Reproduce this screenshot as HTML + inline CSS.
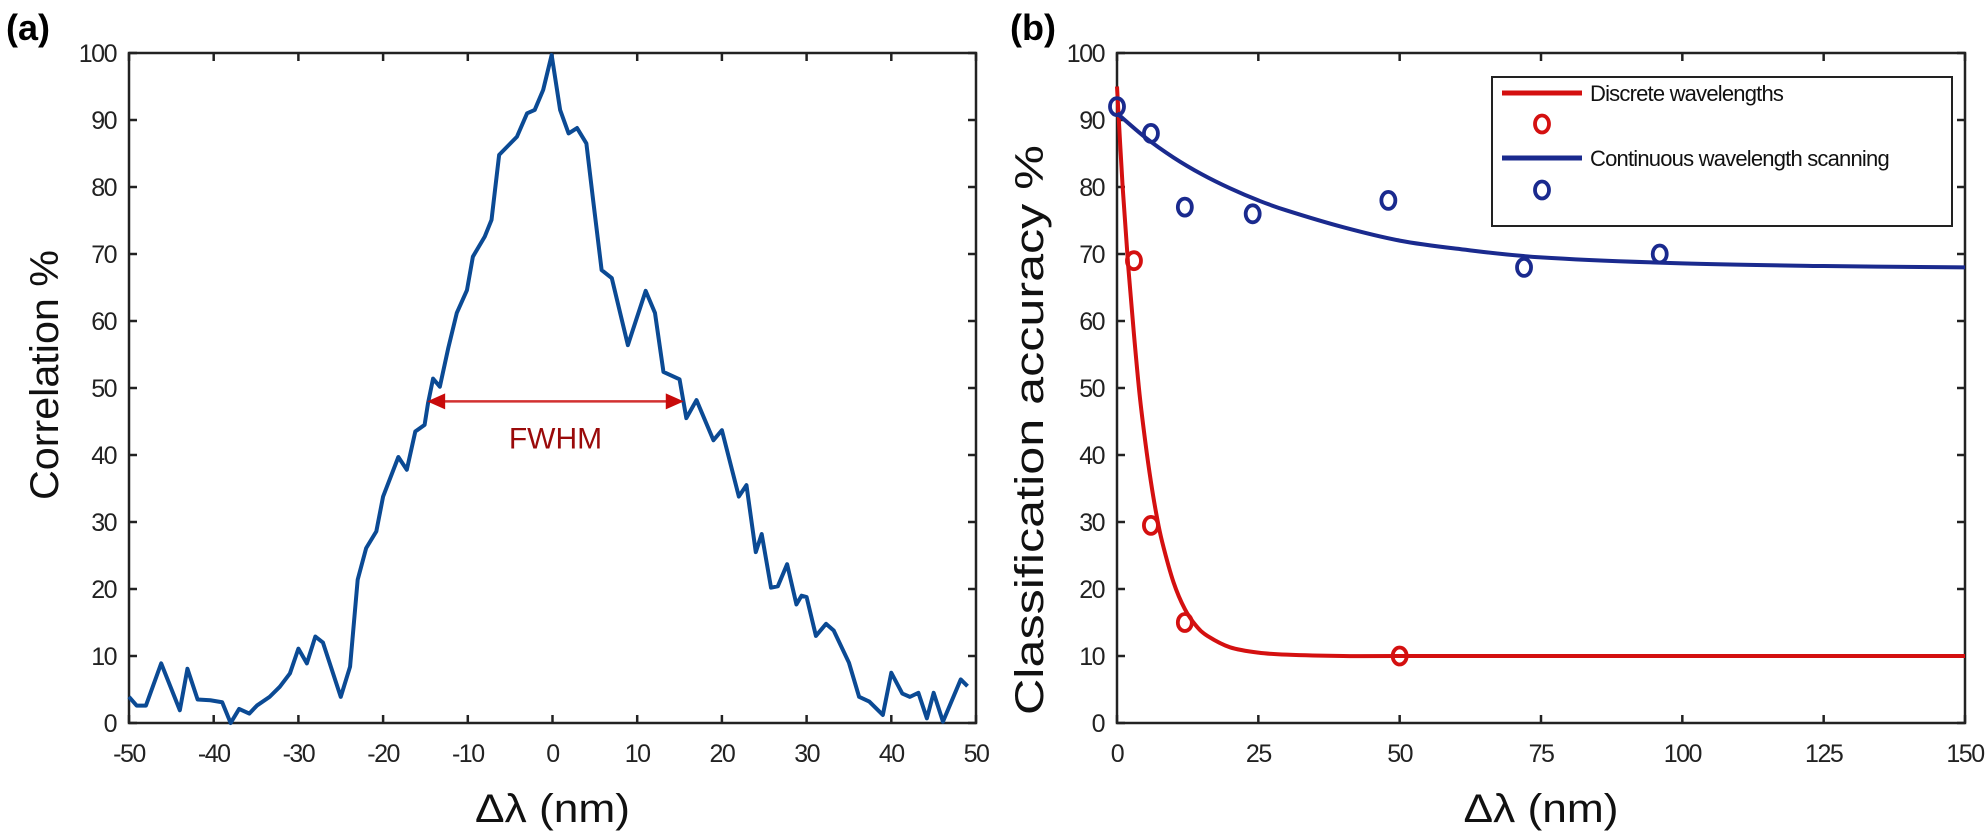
<!DOCTYPE html>
<html><head><meta charset="utf-8"><style>
html,body{margin:0;padding:0;background:#fff;}
svg{display:block;font-family:"Liberation Sans",sans-serif;}
</style></head><body>
<svg id="fig" width="1988" height="834" viewBox="0 0 1988 834">
<text x="6" y="40" font-size="36" font-weight="bold">(a)</text>
<text x="1010" y="40" font-size="36" font-weight="bold">(b)</text>
<g id="pa"></g>
<g id="pb"></g>
</svg>
<script>
// Panel (a) data
const corrX = [-50,-49.1,-48,-46.2,-44,-43.1,-41.9,-40.4,-39,-38,-37,-35.8,-34.9,-33.4,-32.2,-31,-30,-29,-28,-27.1,-25,-23.9,-23,-22,-20.8,-20,-18.2,-17.2,-16.2,-15.1,-14.7,-14.1,-13.3,-12.3,-11.3,-10.1,-9.4,-8,-7.2,-6.3,-4.2,-3,-2.1,-1.1,-0.1,0.9,1.9,2.9,4,4.8,5.8,7,8.9,11,12.1,13.1,15,15.8,17,19,20,22,22.9,24,24.7,25.8,26.6,27.7,28.8,29.4,30,31.1,32.3,33.2,35,36.2,37.4,39,40,41.3,42.2,43.2,44.2,45,46.1,48.2,49];
const corrY = [3.9,2.6,2.6,8.9,1.9,8.1,3.5,3.4,3.1,0,2.1,1.4,2.6,3.9,5.4,7.4,11.1,8.9,12.9,12,3.9,8.4,21.4,26.1,28.6,33.8,39.7,37.8,43.5,44.5,47.7,51.4,50.2,56,61.2,64.6,69.6,72.6,75.1,84.8,87.5,91,91.5,94.5,99.7,91.5,88,88.8,86.5,78,67.6,66.4,56.4,64.5,61.2,52.4,51.3,45.5,48.2,42.2,43.7,33.8,35.5,25.5,28.2,20.2,20.4,23.7,17.7,19,18.8,13,14.8,13.8,9,3.9,3.2,1.2,7.5,4.4,3.9,4.5,0.7,4.5,0.2,6.5,5.5];
const aXTicks = [-50,-40,-30,-20,-10,0,10,20,30,40,50];
const aYTicks = [0,10,20,30,40,50,60,70,80,90,100];
const fwhm = [-14.8, 15.5];
const fwhmLevel = 48;
// Panel (b) data
const discX = [3,6,12,50];
const discY = [69,29.5,15,10];
const contX = [0,6,12,24,48,72,96];
const contY = [92,88,77,76,78,68,70];
const discFitX = [0,1,2,3,4,5,6,7,8,10,12,14,16,20,25,30,40,50,100,150];
const discFitY = [95,80,68,58,49,42,36,31,27,21,17,14.5,13,11.3,10.5,10.2,10,10,10,10];
const contFitX = [0,5,10,15,20,25,30,40,50,60,75,100,125,150];
const contFitY = [91,87.4,84.4,81.9,79.8,78,76.5,74,72,70.8,69.5,68.6,68.2,68];
const bXTicks = [0,25,50,75,100,125,150];
const bYTicks = [0,10,20,30,40,50,60,70,80,90,100];

const NS="http://www.w3.org/2000/svg";
function mk(parent,tag,attrs,text){const e=document.createElementNS(NS,tag);for(const k in attrs)e.setAttribute(k,attrs[k]);if(text!==undefined)e.textContent=text;parent.appendChild(e);return e;}

function axes(g,L,R,T,B,xt,yt,sx,sy,ylabel,ylx,ylcy,yllen){
  mk(g,'rect',{x:L,y:T,width:R-L,height:B-T,fill:'none',stroke:'#222','stroke-width':2.5});
  xt.forEach(v=>{const x=sx(v);
    mk(g,'line',{x1:x,y1:B,x2:x,y2:B-8,stroke:'#222','stroke-width':2.5});
    mk(g,'line',{x1:x,y1:T,x2:x,y2:T+8,stroke:'#222','stroke-width':2.5});
    const t=mk(g,'text',{x:x,y:B+39,'font-size':25,'text-anchor':'middle',fill:'#222','letter-spacing':'-1.5'},String(v));
    
    
  });
  yt.forEach(v=>{const y=sy(v);
    mk(g,'line',{x1:L,y1:y,x2:L+8,y2:y,stroke:'#222','stroke-width':2.5});
    mk(g,'line',{x1:R,y1:y,x2:R-8,y2:y,stroke:'#222','stroke-width':2.5});
    const t=mk(g,'text',{x:L-13,y:y+9,'font-size':25,'text-anchor':'end',fill:'#222','letter-spacing':'-1.5'},String(v));
    
    
  });
  const xl=mk(g,'text',{x:(L+R)/2,y:822,'font-size':40,'text-anchor':'middle',fill:'#111',textLength:155,lengthAdjust:'spacingAndGlyphs'},'Δλ (nm)');
  
  
  const yl=mk(g,'text',{x:0,y:0,'font-size':40,'text-anchor':'middle',fill:'#111',textLength:yllen,lengthAdjust:'spacingAndGlyphs',transform:`translate(${ylx},${ylcy}) rotate(-90)`},ylabel);
  
  
}
function smooth(pts){let d=`M${pts[0][0]},${pts[0][1]}`;
  for(let i=0;i<pts.length-1;i++){const p0=pts[Math.max(0,i-1)],p1=pts[i],p2=pts[i+1],p3=pts[Math.min(pts.length-1,i+2)];
    const c1=[p1[0]+(p2[0]-p0[0])/6,p1[1]+(p2[1]-p0[1])/6],c2=[p2[0]-(p3[0]-p1[0])/6,p2[1]-(p3[1]-p1[1])/6];
    d+=` C${c1[0]},${c1[1]} ${c2[0]},${c2[1]} ${p2[0]},${p2[1]}`;}
  return d;}

// Panel a
(function(){
  const g=document.getElementById('pa');
  const L=129,R=976,T=53,B=723;
  const sx=v=>L+(v+50)/100*(R-L), sy=v=>B-v/100*(B-T);
  axes(g,L,R,T,B,aXTicks,aYTicks,sx,sy,'Correlation %',58,375,250);
  const pts=corrX.map((x,i)=>`${sx(x)},${sy(corrY[i])}`).join(' ');
  const l=mk(g,'polyline',{points:pts,fill:'none',stroke:'#0b4a94','stroke-width':4,'stroke-linejoin':'round'});
  
  
  const y=sy(fwhmLevel),x1=sx(fwhm[0]),x2=sx(fwhm[1]);
  const a=mk(g,'g',{});
  
  
  mk(a,'line',{x1:x1+14,y1:y,x2:x2-14,y2:y,stroke:'#d23030','stroke-width':2.5});
  mk(a,'polygon',{points:`${x1},${y} ${x1+18},${y-8} ${x1+18},${y+8}`,fill:'#c80a0a'});
  mk(a,'polygon',{points:`${x2},${y} ${x2-18},${y-8} ${x2-18},${y+8}`,fill:'#c80a0a'});
  const t=mk(g,'text',{x:(x1+x2)/2,y:y+47,'font-size':30,'text-anchor':'middle',fill:'#9a0a0a'},'FWHM');
  
  
})();

// Panel b
(function(){
  const g=document.getElementById('pb');
  const L=1117,R=1965,T=53,B=723;
  const sx=v=>L+v/150*(R-L), sy=v=>B-v/100*(B-T);
  axes(g,L,R,T,B,bXTicks,bYTicks,sx,sy,'Classification accuracy %',1043,430,570);
  const red='#d41010',blue='#1a2a8e';
  const rf=mk(g,'path',{d:smooth(discFitX.map((x,i)=>[sx(x),sy(discFitY[i])])),fill:'none',stroke:red,'stroke-width':4});
  
  
  const bf=mk(g,'path',{d:smooth(contFitX.map((x,i)=>[sx(x),sy(contFitY[i])])),fill:'none',stroke:blue,'stroke-width':4});
  
  
  discX.forEach((x,i)=>{const c=mk(g,'ellipse',{cx:sx(x),cy:sy(discY[i]),rx:7,ry:8.5,fill:'none',stroke:red,'stroke-width':3.8});
    
    });
  contX.forEach((x,i)=>{const c=mk(g,'ellipse',{cx:sx(x),cy:sy(contY[i]),rx:7,ry:8.5,fill:'none',stroke:blue,'stroke-width':3.8});
    
    });
  const lg=mk(g,'g',{});
  
  
  mk(lg,'rect',{x:1492,y:77,width:460,height:149,fill:'#fff',stroke:'#222','stroke-width':2});
  mk(lg,'line',{x1:1502,y1:93,x2:1582,y2:93,stroke:red,'stroke-width':5});
  const t1=mk(lg,'text',{x:1590,y:101,'font-size':22,fill:'#111','letter-spacing':'-0.8'},'Discrete wavelengths');
  
  
  mk(lg,'ellipse',{cx:1542,cy:124,rx:7,ry:8.5,fill:'none',stroke:red,'stroke-width':3.8});
  mk(lg,'line',{x1:1502,y1:158,x2:1582,y2:158,stroke:blue,'stroke-width':5});
  const t2=mk(lg,'text',{x:1590,y:166,'font-size':22,fill:'#111','letter-spacing':'-0.8'},'Continuous wavelength scanning');
  
  
  mk(lg,'ellipse',{cx:1542,cy:190,rx:7,ry:8.5,fill:'none',stroke:blue,'stroke-width':3.8});
})();
</script>
</body></html>
